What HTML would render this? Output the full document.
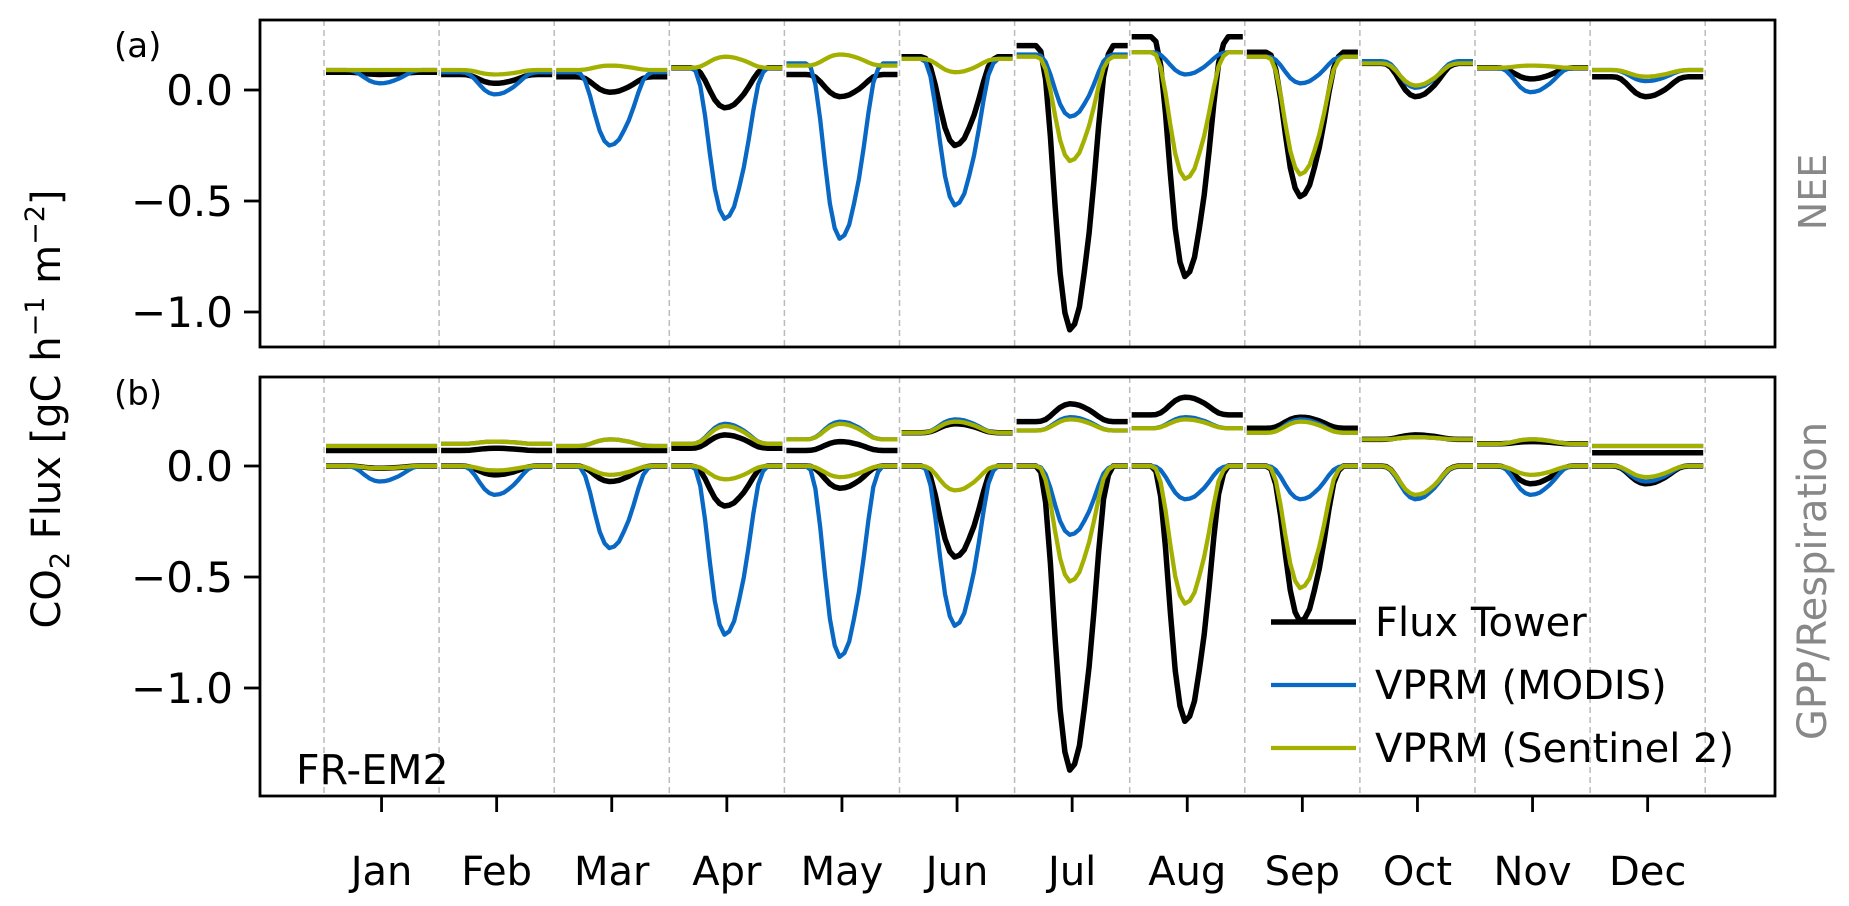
<!DOCTYPE html>
<html><head><meta charset="utf-8">
<style>
html,body{margin:0;padding:0;background:#fff;}
svg{display:block;}
text{font-family:"DejaVu Sans","Liberation Sans",sans-serif;}
</style></head>
<body>
<svg id="chart" width="1849" height="906" viewBox="0 0 1849 906"></svg>
<script>
const months = ['Jan','Feb','Mar','Apr','May','Jun','Jul','Aug','Sep','Oct','Nov','Dec'];
const yTicks = [0.0, -0.5, -1.0];
const yTickLabels = ['0.0','\u22120.5','\u22121.0'];
// normalized diurnal amplitude profile by hour (0..23)
const diurnalShape = [0,0,0,0,0,0.02,0.12,0.32,0.57,0.8,0.94,1,0.98,0.92,0.8,0.66,0.48,0.28,0.11,0.03,0,0,0,0];
// NEE panel (a): night value and midday value per month
const neeTowerNight = [0.08,0.07,0.06,0.10,0.07,0.15,0.20,0.24,0.17,0.12,0.10,0.06];
const neeTowerDay   = [0.07,0.03,-0.01,-0.08,-0.03,-0.25,-1.08,-0.84,-0.48,-0.03,0.05,-0.03];
const neeModisNight = [0.09,0.08,0.08,0.10,0.12,0.14,0.16,0.17,0.15,0.13,0.10,0.09];
const neeModisDay   = [0.03,-0.02,-0.25,-0.58,-0.67,-0.52,-0.12,0.07,0.03,0.01,-0.01,0.04];
const neeS2Night    = [0.09,0.09,0.09,0.10,0.11,0.14,0.15,0.17,0.15,0.12,0.10,0.09];
const neeS2Day      = [0.09,0.07,0.11,0.15,0.16,0.08,-0.32,-0.40,-0.38,0.02,0.11,0.06];
// panel (b): respiration
const respTowerNight = [0.07,0.07,0.07,0.08,0.07,0.15,0.20,0.23,0.17,0.12,0.10,0.06];
const respTowerDay   = [0.07,0.08,0.07,0.14,0.11,0.19,0.28,0.31,0.22,0.14,0.11,0.06];
const respModisNight = [0.09,0.10,0.09,0.10,0.12,0.15,0.16,0.17,0.15,0.12,0.10,0.09];
const respModisDay   = [0.09,0.11,0.12,0.19,0.20,0.21,0.22,0.22,0.21,0.13,0.12,0.09];
const respS2Night    = [0.09,0.10,0.09,0.10,0.12,0.15,0.16,0.17,0.15,0.12,0.10,0.09];
const respS2Day      = [0.09,0.11,0.12,0.18,0.19,0.20,0.21,0.21,0.20,0.13,0.12,0.09];
// panel (b): GPP midday values (night = 0)
const gppTowerDay = [-0.01,-0.04,-0.07,-0.18,-0.10,-0.41,-1.37,-1.15,-0.70,-0.14,-0.08,-0.08];
const gppModisDay = [-0.07,-0.13,-0.37,-0.76,-0.86,-0.72,-0.31,-0.15,-0.15,-0.15,-0.13,-0.07];
const gppS2Day    = [-0.01,-0.02,-0.04,-0.06,-0.05,-0.11,-0.52,-0.62,-0.55,-0.13,-0.04,-0.05];

const NS='http://www.w3.org/2000/svg';
const svg=document.getElementById('chart');
const L=260,R=1775,xStart=324,mW=115.1;
const pA={top:20,bot:347,zero:90},pB={top:377,bot:796,zero:466};
const sc=222;
const BLACK='#000',BLUE='#0868c4',GREEN='#a3b000';
function el(t,a,p){const e=document.createElementNS(NS,t);for(const k in a)e.setAttribute(k,a[k]);(p||svg).appendChild(e);return e;}
function xH(m,h){return xStart+m*mW+2+h/23*(mW-4);}
function yv(p,v){return p.zero-v*sc;}

for(const p of [pA,pB]){
  for(let i=0;i<=12;i++){
    const x=xStart+i*mW;
    const d=el('line',{x1:x,x2:x,y1:p.top,y2:p.bot,stroke:'#bbb','stroke-width':1.5,'stroke-dasharray':'6,4'});
    
    
  }
}
function series(p,night,day,color,w,name){
  for(let m=0;m<12;m++){
    let pts=[];
    for(let h=0;h<24;h++){
      const v=night[m]+(day[m]-night[m])*diurnalShape[h];
      pts.push(xH(m,h).toFixed(1)+','+yv(p,v).toFixed(1));
    }
    const pl=el('polyline',{points:pts.join(' '),fill:'none',stroke:color,'stroke-width':w,'stroke-linejoin':'round'});
    
    
  }
}
const zeros=new Array(12).fill(0);
series(pA,neeTowerNight,neeTowerDay,BLACK,5.5,'nee-tower');
series(pA,neeModisNight,neeModisDay,BLUE,4.3,'nee-modis');
series(pA,neeS2Night,neeS2Day,GREEN,4.3,'nee-sentinel2');
series(pB,respTowerNight,respTowerDay,BLACK,5.5,'resp-tower');
series(pB,respModisNight,respModisDay,BLUE,4.3,'resp-modis');
series(pB,respS2Night,respS2Day,GREEN,4.3,'resp-sentinel2');
series(pB,zeros,gppTowerDay,BLACK,5.5,'gpp-tower');
series(pB,zeros,gppModisDay,BLUE,4.3,'gpp-modis');
series(pB,zeros,gppS2Day,GREEN,4.3,'gpp-sentinel2');

for(const [p,nm] of [[pA,'panel-a'],[pB,'panel-b']]){
  const f=el('rect',{x:L,y:p.top,width:R-L,height:p.bot-p.top,fill:'none',stroke:'#000','stroke-width':2.8});
  
  
  yTicks.forEach((t,i)=>{
    const y=yv(p,t);
    el('line',{x1:L-16,x2:L,y1:y,y2:y,stroke:'#000','stroke-width':2.8});
    const tx=el('text',{x:233,y:y+15,'text-anchor':'end','font-size':42});
    tx.textContent=yTickLabels[i];
    
    
  });
}
months.forEach((m,i)=>{
  const x=xStart+(i+0.5)*mW;
  el('line',{x1:x,x2:x,y1:pB.bot,y2:pB.bot+16,stroke:'#000','stroke-width':2.8});
  const t=el('text',{x:x,y:885,'text-anchor':'middle','font-size':40});
  t.textContent=m;
  
  
});
</script>
<script>
(function(){
const NS='http://www.w3.org/2000/svg',svg=document.getElementById('chart');
function tx(x,y,s,size,name,extra){const t=document.createElementNS(NS,'text');t.setAttribute('x',x);t.setAttribute('y',y);t.setAttribute('font-size',size);for(const k in (extra||{}))t.setAttribute(k,extra[k]);t.textContent=s;svg.appendChild(t);return t;}
tx(114,57,'(a)',34,'panel-a-label');
tx(114,405,'(b)',34,'panel-b-label');
tx(296,784,'FR-EM2',41,'site-label');
tx(0,0,'NEE',38,'nee-axis-label',{transform:'translate(1826,192) rotate(-90)','text-anchor':'middle',fill:'#888'});
tx(0,0,'GPP/Respiration',40,'gpp-axis-label',{transform:'translate(1826,581) rotate(-90)','text-anchor':'middle',fill:'#888'});
const yt=tx(0,0,'',40,'y-axis-title',{transform:'translate(60,409) rotate(-90)','text-anchor':'middle'});
yt.innerHTML='CO<tspan font-size="27" dy="9">2</tspan><tspan dy="-9"> Flux [gC h</tspan><tspan font-size="27" dy="-16">\u22121</tspan><tspan dy="16"> m</tspan><tspan font-size="27" dy="-16">\u22122</tspan><tspan dy="16">]</tspan>';
const leg=[['Flux Tower','#000',5.5,622],['VPRM (MODIS)','#0868c4',4.3,685],['VPRM (Sentinel 2)','#a3b000',4.3,748]];
leg.forEach(([s,c,w,y])=>{
  const l=document.createElementNS(NS,'line');
  l.setAttribute('x1',1271);l.setAttribute('x2',1356);l.setAttribute('y1',y);l.setAttribute('y2',y);
  l.setAttribute('stroke',c);l.setAttribute('stroke-width',w);
  
  
  svg.appendChild(l);
  tx(1375,y+14,s,40,'legend-entry');
});
})();
</script>
</body></html>
